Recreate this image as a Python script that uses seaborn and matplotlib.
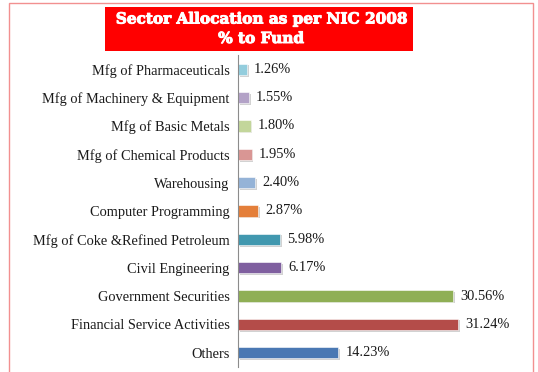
import matplotlib
matplotlib.use("Agg")
import matplotlib.pyplot as plt
import matplotlib.patheffects as pe
from matplotlib.patches import Rectangle
import numpy as np
import pandas as pd
import seaborn as sns

sectors = [
    "Mfg of Pharmaceuticals",
    "Mfg of Machinery & Equipment",
    "Mfg of Basic Metals",
    "Mfg of Chemical Products",
    "Warehousing",
    "Computer Programming",
    "Mfg of Coke &Refined Petroleum",
    "Civil Engineering",
    "Government Securities",
    "Financial Service Activities",
    "Others",
]
allocation = [1.26, 1.55, 1.80, 1.95, 2.40, 2.87, 5.98, 6.17, 30.56, 31.24, 14.23]
bar_colors = [
    "#93CDDD", "#B3A2C7", "#C3D69B", "#D99694", "#95B3D7", "#E47F3A",
    "#4198AF", "#7F5F9F", "#8FAF55", "#B44C49", "#4A78B3",
]
title_lines = ["Sector Allocation as per NIC 2008", "% to Fund"]

sns.set_theme(style="white")
plt.rcParams["font.family"] = ["Liberation Serif", "DejaVu Serif"]

df = pd.DataFrame({"sector": sectors, "pct": allocation})

fig = plt.figure(figsize=(5.38, 3.72), dpi=100)
fig.patch.set_facecolor("white")

# outer chart frame
fig.add_artist(Rectangle((9 / 538, -0.05), (533 - 9) / 538, 1.05 - 3 / 372,
                         transform=fig.transFigure, fill=False,
                         edgecolor="#F29090", linewidth=1.0))

ax = fig.add_axes([238 / 538, 1 - 367 / 372, 282 / 538, (367 - 55) / 372])
sns.barplot(data=df, y="sector", x="pct", hue="sector", palette=bar_colors,
            orient="h", width=0.4, legend=False, ax=ax, saturation=1)

for bar in ax.patches:
    bar.set_edgecolor("white")
    bar.set_linewidth(0.4)
    bar.set_path_effects([pe.SimplePatchShadow(offset=(1.2, -1.2), alpha=0.35,
                                               shadow_rgbFace="#808080"),
                          pe.Normal()])

for i, v in enumerate(allocation):
    ax.text(v + 1.0, i, f"{v:.2f}%", va="center", ha="left",
            fontsize=10.4, color="#1A1A1A")

ax.set_xlim(0, 40)
ax.set_ylim(len(sectors) - 0.5, -0.5)
ax.set_xlabel("")
ax.set_ylabel("")
ax.set_xticks([])
ax.tick_params(axis="y", which="major", length=0, pad=6, labelsize=10.4,
               labelcolor="#1A1A1A")
ax.set_yticks(np.arange(-0.5, len(sectors), 1.0), minor=True)
ax.tick_params(axis="y", which="minor", length=3.5, width=0.8, color="#8C8C8C",
               direction="out")
for side in ["top", "right", "bottom"]:
    ax.spines[side].set_visible(False)
ax.spines["left"].set_color("#8C8C8C")
ax.spines["left"].set_linewidth(0.8)
ax.set_facecolor("none")

# title banner
fig.add_artist(Rectangle((105 / 538, 1 - 51 / 372), (413 - 105) / 538, 44 / 372,
                         transform=fig.transFigure, facecolor="#FF0000",
                         edgecolor="none"))
heavy = [pe.withStroke(linewidth=0.7, foreground="white")]
fig.text(261 / 538, 1 - 19.5 / 372, title_lines[0], ha="center", va="center",
         color="white", fontsize=11, fontweight="bold", family="DejaVu Serif",
         path_effects=heavy)
fig.text(261 / 538, 1 - 39 / 372, title_lines[1], ha="center", va="center",
         color="white", fontsize=11, fontweight="bold", family="DejaVu Serif",
         path_effects=heavy)

fig.savefig("out.png", dpi=100)
